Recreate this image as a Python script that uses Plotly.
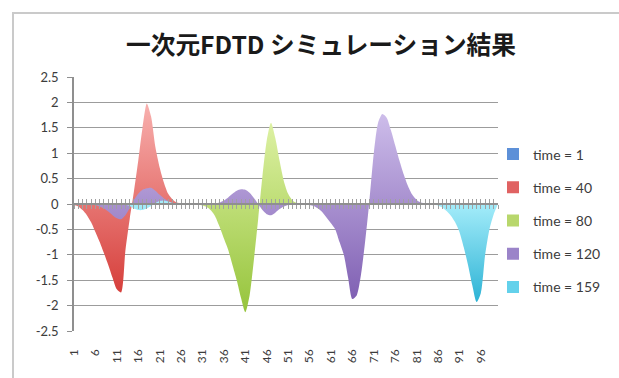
import plotly.graph_objects as go

# ---------------- data ----------------
CATEGORIES = list(range(1, 101))
X_TICK_VALUES = [1, 6, 11, 16, 21, 26, 31, 36, 41, 46, 51, 56, 61, 66, 71, 76, 81, 86, 91, 96]
X_TICK_LABELS = ["1", "6", "11", "16", "21", "26", "31", "36", "41", "46",
                 "51", "56", "61", "66", "71", "76", "81", "86", "91", "96"]
Y_TICK_VALUES = [-2.5, -2, -1.5, -1, -0.5, 0, 0.5, 1, 1.5, 2, 2.5]
Y_TICK_LABELS = ["-2.5", "-2", "-1.5", "-1", "-0.5", "0", "0.5", "1", "1.5", "2", "2.5"]

SERIES_NAMES = ["time = 1", "time = 40", "time = 80", "time = 120", "time = 159"]

TIME_1 = [
    0, 0, 0, 0, 0, 0, 0, 0, 0, 0,
    0, 0, 0, 0, 0, 0, 0, 0, 0, 0,
    0, 0, 0, 0, 0, 0, 0, 0, 0, 0,
    0, 0, 0, 0, 0, 0, 0, 0, 0, 0,
    0, 0, 0, 0, 0, 0, 0, 0, 0, 0,
    0, 0, 0, 0, 0, 0, 0, 0, 0, 0,
    0, 0, 0, 0, 0, 0, 0, 0, 0, 0,
    0, 0, 0, 0, 0, 0, 0, 0, 0, 0,
    0, 0, 0, 0, 0, 0, 0, 0, 0, 0,
    0, 0, 0, 0, 0, 0, 0, 0, 0, 0,
]

TIME_40 = [
    -0.02, -0.05, -0.12, -0.22, -0.36, -0.55, -0.75, -0.97, -1.2, -1.45,
    -1.68, -1.74, -0.92, -0.3, 0.25, 0.85, 1.5, 1.98, 1.72, 1.12,
    0.72, 0.42, 0.2, 0.09, 0.03, 0.01, 0, 0, 0, 0,
    0, 0, 0, 0, 0, 0, 0, 0, 0, 0,
    0, 0, 0, 0, 0, 0, 0, 0, 0, 0,
    0, 0, 0, 0, 0, 0, 0, 0, 0, 0,
    0, 0, 0, 0, 0, 0, 0, 0, 0, 0,
    0, 0, 0, 0, 0, 0, 0, 0, 0, 0,
    0, 0, 0, 0, 0, 0, 0, 0, 0, 0,
    0, 0, 0, 0, 0, 0, 0, 0, 0, 0,
]

TIME_80 = [
    0, 0, 0, 0, 0, 0, 0, 0, 0, 0,
    0, 0, 0, 0, 0, 0, 0, 0, 0, 0,
    0, 0, 0, 0, 0, 0, 0, 0, 0, -0.01,
    -0.03, -0.06, -0.13, -0.25, -0.45, -0.68, -0.9, -1.2, -1.5, -1.85,
    -2.13, -1.8, -1.1, -0.3, 0.55, 1.25, 1.6, 1.3, 0.85, 0.45,
    0.2, 0.07, 0.02, 0, 0, 0, 0, 0, 0, 0,
    0, 0, 0, 0, 0, 0, 0, 0, 0, 0,
    0, 0, 0, 0, 0, 0, 0, 0, 0, 0,
    0, 0, 0, 0, 0, 0, 0, 0, 0, 0,
    0, 0, 0, 0, 0, 0, 0, 0, 0, 0,
]

TIME_120 = [
    0, 0, 0, -0.01, -0.01, -0.02, -0.05, -0.09, -0.15, -0.22,
    -0.28, -0.3, -0.22, -0.08, 0.08, 0.2, 0.28, 0.31, 0.32, 0.26,
    0.18, 0.11, 0.06, 0.02, 0, 0, 0, 0, 0, 0,
    0, 0, 0, 0.01, 0.03, 0.07, 0.13, 0.2, 0.26, 0.29,
    0.28, 0.22, 0.12, 0.0, -0.12, -0.2, -0.22, -0.17, -0.1, -0.05,
    -0.02, 0, 0, 0, -0.01, -0.02, -0.04, -0.09, -0.16, -0.27,
    -0.38, -0.5, -0.75, -1.0, -1.45, -1.87, -1.8, -1.4, -0.72, 0.08,
    1.0, 1.6, 1.77, 1.7, 1.45, 1.15, 0.85, 0.58, 0.35, 0.18,
    0.08, 0.03, 0.01, 0, 0, 0, 0, 0, 0, 0,
    0, 0, 0, 0, 0, 0, 0, 0, 0, 0,
]

TIME_159 = [
    0, 0, 0, 0, 0, 0, 0, 0, 0, 0,
    0, 0, -0.01, -0.04, -0.09, -0.12, -0.12, -0.09, -0.04, 0.02,
    0.06, 0.07, 0.05, 0.02, 0, 0, 0, 0, 0, 0,
    0, 0, 0, 0, 0, 0, 0, 0, 0, 0,
    0, 0, 0, 0, 0, 0, 0, 0, 0, 0,
    0, 0, 0, 0, 0, 0, 0, 0, 0, 0,
    0, 0, 0, 0, 0, 0, 0, 0, 0, 0,
    0, 0, 0, 0, 0, 0, 0, 0, 0, 0,
    0, 0, 0, 0, -0.01, -0.03, -0.07, -0.14, -0.23, -0.36,
    -0.55, -0.85, -1.2, -1.6, -1.93, -1.75, -1.0, -0.5, -0.2, 0.0,
]

SERIES_VALUES = [TIME_1, TIME_40, TIME_80, TIME_120, TIME_159]

# ---------------- styles ----------------
GRADIENTS = [
    ("#4f86d2", "#8db4ea"),
    ("#d63f3b", "#f8b0ae"),
    ("#96c43c", "#ddf1a3"),
    ("#8060b3", "#cdbdea"),
    ("#2db3d5", "#a8eefb"),
]
LEGEND_COLORS = ["#5d90d8", "#e06262", "#b8d76c", "#9b84c9", "#63d1eb"]
AXIS_COLOR = "#8f8f8f"
GRID_COLOR = "#9c9c9c"
TEXT_COLOR = "#3c3c3c"
LATIN_FONT = "Lato"

W, H = 619, 378
ML, MR, MT, MB = 74, 121, 77, 47
PW, PH = W - ML - MR, H - MT - MB

fig = go.Figure()

# filled areas (later series drawn on top)
for name, vals, (dark, light) in zip(SERIES_NAMES, SERIES_VALUES, GRADIENTS):
    fig.add_trace(go.Scatter(
        x=CATEGORIES, y=vals, name=name, mode="lines",
        line=dict(width=0, color=dark, shape="spline", smoothing=0.7),
        fill="tozeroy",
        fillgradient=dict(type="vertical", colorscale=[[0, dark], [1, light]]),
        showlegend=False, hoverinfo="x+y+name",
    ))

# legend entries with small square swatches
for i, (name, col) in enumerate(zip(SERIES_NAMES, LEGEND_COLORS)):
    fig.add_trace(go.Scatter(
        x=[None], y=[None], name=name, mode="markers",
        marker=dict(symbol="square", size=8, color=col),
        legendgroup=f"g{i}", showlegend=True,
    ))

# carriers for the category axis drawn along zero (ticks up and down)
for ax in ("x2", "x3"):
    fig.add_trace(go.Scatter(x=CATEGORIES, y=TIME_1, mode="none", xaxis=ax, yaxis="y",
                             showlegend=False, hoverinfo="skip"))

zero_axis = dict(
    overlaying="x", anchor="free", position=0.5, side="bottom",
    range=[1, 100], showline=True, linecolor=AXIS_COLOR, linewidth=1.5,
    tickmode="linear", tick0=1, dtick=1, ticklen=4, tickwidth=1, tickcolor="#a0a0a0",
    showticklabels=False, showgrid=False, zeroline=False,
)

fig.update_layout(
    width=W, height=H,
    margin=dict(l=ML, r=MR, t=MT, b=MB, pad=0),
    paper_bgcolor="white", plot_bgcolor="white",
    title=dict(
        text="<b>一次元FDTD シミュレーション結果</b>",
        x=321 / W, xanchor="center", y=1 - 45 / H, yanchor="middle",
        xref="container", yref="container",
        font=dict(family="Noto Sans CJK JP", size=24.7, color="#1a1a1a"),
    ),
    xaxis=dict(
        range=[1, 100], tickmode="array", tickvals=X_TICK_VALUES, ticktext=X_TICK_LABELS,
        tickangle=-90, ticks="", showline=False, showgrid=False, zeroline=False,
        ticklabelstandoff=15,
        tickfont=dict(family=LATIN_FONT, size=12, color=TEXT_COLOR),
    ),
    xaxis2=dict(zero_axis, ticks="outside"),
    xaxis3=dict(zero_axis, ticks="inside"),
    yaxis=dict(
        range=[-2.5, 2.5], tickmode="array", tickvals=Y_TICK_VALUES, ticktext=Y_TICK_LABELS,
        showgrid=True, gridcolor=GRID_COLOR, gridwidth=1.3,
        showline=True, linecolor=AXIS_COLOR, linewidth=1.5,
        ticks="outside", ticklen=5, tickcolor=AXIS_COLOR, tickwidth=1.3,
        zeroline=False, ticklabelstandoff=6,
        tickfont=dict(family=LATIN_FONT, size=13, color=TEXT_COLOR),
    ),
    legend=dict(
        x=(493 - ML) / PW, xanchor="left", y=(H - MB - 220.5) / PH, yanchor="middle",
        bgcolor="rgba(0,0,0,0)", borderwidth=0, tracegroupgap=12,
        font=dict(family=LATIN_FONT, size=14, color=TEXT_COLOR),
        itemsizing="constant",
    ),
    shapes=[dict(
        type="rect", xref="paper", yref="paper", layer="below",
        x0=(13 - ML) / PW, x1=(650 - ML) / PW,
        y0=(H - MB - 420) / PH, y1=(H - MB - 13) / PH,
        line=dict(color="#cacaca", width=2), fillcolor="rgba(0,0,0,0)",
    )],
)

fig.write_html("out.html")
